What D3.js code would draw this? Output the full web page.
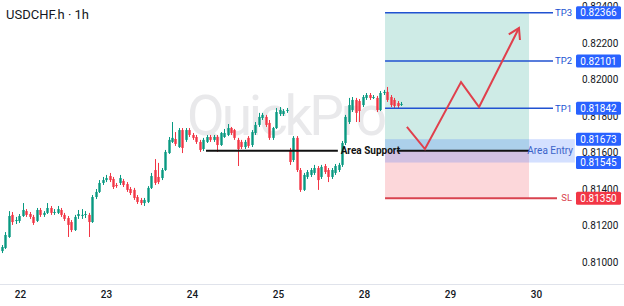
<!DOCTYPE html>
<html>
<head>
<meta charset="utf-8">
<script src="https://cdn.jsdelivr.net/npm/d3@7"></script>
<style>
  body { margin: 0; background: #fff; }
  text { font-family: Roboto, "Noto Sans", sans-serif; }
</style>
</head>
<body>
<div id="chart"></div>
<script>
var width = 624,
    height = 306;

// hourly candles, USDCHF.h
var open = [0.81060,0.81077,0.81137,0.81258,0.81225,0.81225,0.81252,0.81279,0.81263,0.81247,
  0.81225,0.81285,0.81258,0.81269,0.81296,0.81269,0.81269,0.81285,0.81258,0.81241,
  0.81219,0.81175,0.81252,0.81258,0.81263,0.81258,0.81219,0.81356,0.81384,0.81433,
  0.81449,0.81471,0.81455,0.81422,0.81433,0.81444,0.81427,0.81400,0.81395,0.81356,
  0.81340,0.81323,0.81329,0.81406,0.81504,0.81466,0.81460,0.81504,0.81597,0.81658,
  0.81674,0.81630,0.81723,0.81669,0.81723,0.81696,0.81685,0.81658,0.81619,0.81658,
  0.81685,0.81669,0.81685,0.81641,0.81685,0.81696,0.81734,0.81723,0.81669,0.81658,
  0.81630,0.81680,0.81641,0.81707,0.81751,0.81789,0.81795,0.81762,0.81680,0.81734,
  0.81811,0.81811,0.81833,0.81614,0.81559,0.81680,0.81504,0.81395,0.81466,0.81477,
  0.81488,0.81515,0.81466,0.81526,0.81504,0.81466,0.81488,0.81504,0.81532,0.81652,
  0.81767,0.81833,0.81888,0.81882,0.81860,0.81899,0.81915,0.81904,0.81899,0.81833,
  0.81926,0.81932,0.81904,0.81888,0.81871,0.81866];
var high = [0.81093,0.81164,0.81279,0.81274,0.81247,0.81263,0.81323,0.81290,0.81274,0.81258,
  0.81296,0.81296,0.81279,0.81323,0.81307,0.81290,0.81307,0.81296,0.81269,0.81252,
  0.81230,0.81258,0.81285,0.81290,0.81279,0.81269,0.81367,0.81400,0.81449,0.81466,
  0.81477,0.81488,0.81466,0.81433,0.81477,0.81455,0.81438,0.81411,0.81406,0.81367,
  0.81351,0.81351,0.81416,0.81488,0.81564,0.81543,0.81515,0.81614,0.81685,0.81767,
  0.81712,0.81734,0.81734,0.81734,0.81734,0.81707,0.81696,0.81669,0.81680,0.81696,
  0.81696,0.81696,0.81696,0.81712,0.81729,0.81756,0.81740,0.81729,0.81680,0.81669,
  0.81669,0.81690,0.81723,0.81767,0.81817,0.81817,0.81806,0.81778,0.81740,0.81844,
  0.81849,0.81838,0.81844,0.81625,0.81690,0.81690,0.81515,0.81488,0.81504,0.81515,
  0.81532,0.81526,0.81532,0.81537,0.81515,0.81515,0.81537,0.81543,0.81663,0.81806,
  0.81899,0.81904,0.81899,0.81893,0.81915,0.81926,0.81926,0.81915,0.81910,0.81937,
  0.81943,0.81959,0.81915,0.81899,0.81882,0.81877];
var low = [0.81049,0.81071,0.81132,0.81203,0.81208,0.81214,0.81247,0.81247,0.81236,0.81203,
  0.81219,0.81247,0.81247,0.81263,0.81258,0.81258,0.81263,0.81247,0.81225,0.81137,
  0.81164,0.81170,0.81236,0.81236,0.81241,0.81137,0.81214,0.81345,0.81378,0.81422,
  0.81438,0.81438,0.81400,0.81406,0.81422,0.81411,0.81384,0.81367,0.81340,0.81318,
  0.81312,0.81307,0.81323,0.81400,0.81422,0.81427,0.81449,0.81499,0.81592,0.81652,
  0.81636,0.81625,0.81597,0.81658,0.81685,0.81669,0.81647,0.81603,0.81608,0.81652,
  0.81658,0.81658,0.81603,0.81636,0.81680,0.81690,0.81696,0.81669,0.81526,0.81619,
  0.81619,0.81625,0.81630,0.81696,0.81740,0.81778,0.81740,0.81669,0.81669,0.81729,
  0.81800,0.81800,0.81817,0.81532,0.81548,0.81493,0.81384,0.81389,0.81455,0.81466,
  0.81477,0.81395,0.81455,0.81482,0.81438,0.81455,0.81477,0.81493,0.81521,0.81641,
  0.81756,0.81822,0.81767,0.81767,0.81849,0.81888,0.81888,0.81893,0.81822,0.81827,
  0.81915,0.81877,0.81849,0.81844,0.81844,0.81855];
var close = [0.81082,0.81148,0.81252,0.81219,0.81230,0.81252,0.81285,0.81258,0.81247,0.81214,
  0.81285,0.81258,0.81269,0.81296,0.81269,0.81274,0.81290,0.81258,0.81236,0.81203,
  0.81175,0.81247,0.81263,0.81258,0.81263,0.81219,0.81356,0.81384,0.81433,0.81449,
  0.81460,0.81449,0.81411,0.81416,0.81460,0.81422,0.81395,0.81378,0.81351,0.81329,
  0.81323,0.81340,0.81406,0.81471,0.81433,0.81438,0.81504,0.81603,0.81669,0.81680,
  0.81647,0.81723,0.81625,0.81723,0.81696,0.81680,0.81658,0.81614,0.81669,0.81685,
  0.81669,0.81685,0.81641,0.81707,0.81707,0.81734,0.81707,0.81680,0.81619,0.81630,
  0.81658,0.81636,0.81712,0.81751,0.81795,0.81806,0.81751,0.81680,0.81734,0.81822,
  0.81833,0.81827,0.81833,0.81548,0.81680,0.81504,0.81395,0.81477,0.81493,0.81504,
  0.81515,0.81449,0.81521,0.81493,0.81466,0.81504,0.81526,0.81532,0.81652,0.81795,
  0.81860,0.81888,0.81817,0.81827,0.81904,0.81915,0.81899,0.81904,0.81833,0.81926,
  0.81932,0.81888,0.81860,0.81855,0.81855,0.81866];

var dayLabels = ["22", "23", "24", "25", "28", "29", "30"];
var priceTicks = [0.810, 0.812, 0.814, 0.816, 0.818, 0.820, 0.822, 0.824];

// trade levels
var targets = [
  {name: "TP3", price: 0.82366},
  {name: "TP2", price: 0.82101},
  {name: "TP1", price: 0.81842}
];
var stopLoss = 0.81350;
var entryPrice = 0.81610;
var entryTop = 0.81673, entryBottom = 0.81545;

// projected path (bar index, price)
var pathIdx = [116.7, 121.9, 132.3, 137.5, 149.0];
var pathPrice = [0.81740, 0.81619, 0.81986, 0.81849, 0.82282];

var svg = d3.select("#chart").append("svg")
    .attr("width", width)
    .attr("height", height);

var x = d3.scaleLinear()
    .domain([0, close.length - 1])
    .range([2, 401]);

var y = d3.scaleLinear()
    .domain([0.810, 0.822])
    .range([262, 43]);

var xDay = d3.scalePoint()
    .domain(dayLabels)
    .range([20, 536]);

// watermark
svg.append("text")
    .attr("x", 287)
    .attr("y", 135)
    .attr("text-anchor", "middle")
    .attr("textLength", 200)
    .style("font-size", "55px")
    .style("fill", "#e9e9eb")
    .text("QuickPro");

// position zones
var zoneL = x(110.4), zoneR = x(151.9);
svg.append("rect")
    .attr("x", zoneL).attr("width", zoneR - zoneL)
    .attr("y", y(targets[0].price)).attr("height", y(entryPrice) - y(targets[0].price))
    .style("fill", "rgba(8,153,129,0.2)");
svg.append("rect")
    .attr("x", zoneL).attr("width", zoneR - zoneL)
    .attr("y", y(entryPrice)).attr("height", y(stopLoss) - y(entryPrice))
    .style("fill", "rgba(242,54,69,0.2)");
svg.append("rect")
    .attr("x", zoneL).attr("width", x(165.1) - zoneL)
    .attr("y", y(entryTop)).attr("height", y(entryBottom) - y(entryTop))
    .style("fill", "rgba(41,98,255,0.2)");

// candles
var idx = d3.range(close.length);
var candles = svg.append("g").attr("class", "candles");
candles.selectAll("line")
    .data(idx)
  .enter().append("line")
    .attr("x1", function(i) { return Math.round(x(i)) + 0.5; })
    .attr("x2", function(i) { return Math.round(x(i)) + 0.5; })
    .attr("y1", function(i) { return y(high[i]); })
    .attr("y2", function(i) { return y(low[i]); })
    .style("stroke", function(i) { return close[i] >= open[i] ? "#089981" : "#f23645"; })
    .style("stroke-width", 1);
candles.selectAll("rect")
    .data(idx)
  .enter().append("rect")
    .attr("x", function(i) { return Math.round(x(i)) - 0.7; })
    .attr("width", 2.4)
    .attr("y", function(i) { return y(Math.max(open[i], close[i])); })
    .attr("height", function(i) { return Math.max(1, Math.abs(y(open[i]) - y(close[i]))); })
    .style("fill", function(i) { return close[i] >= open[i] ? "#089981" : "#f23645"; });

// area support
svg.append("line")
    .attr("x1", x(58.8)).attr("x2", x(96.8))
    .attr("y1", y(entryPrice)).attr("y2", y(entryPrice))
    .style("stroke", "#111").style("stroke-width", 2);
svg.append("line")
    .attr("x1", x(113.8)).attr("x2", zoneR)
    .attr("y1", y(entryPrice)).attr("y2", y(entryPrice))
    .style("stroke", "#111").style("stroke-width", 2);
svg.append("text")
    .attr("x", x(97.6))
    .attr("y", y(entryPrice))
    .attr("dy", "0.35em")
    .style("font-size", "10px")
    .style("font-weight", "bold")
    .style("fill", "#111")
    .text("Area Support");
svg.append("text")
    .attr("x", 573)
    .attr("y", y(entryPrice))
    .attr("dy", "0.35em")
    .attr("text-anchor", "end")
    .style("font-size", "10px")
    .style("fill", "#3b63c9")
    .text("Area Entry");

// target lines
targets.forEach(function(t) {
  svg.append("line")
      .attr("x1", zoneL).attr("x2", 553)
      .attr("y1", y(t.price)).attr("y2", y(t.price))
      .style("stroke", "#2152d1").style("stroke-width", 1.5);
  svg.append("text")
      .attr("x", 572)
      .attr("y", y(t.price))
      .attr("dy", "0.35em")
      .attr("text-anchor", "end")
      .style("font-size", "9.5px")
      .style("fill", "#2152d1")
      .text(t.name);
});

// stop loss line
svg.append("line")
    .attr("x1", zoneL).attr("x2", 557)
    .attr("y1", y(stopLoss)).attr("y2", y(stopLoss))
    .style("stroke", "#d9434f").style("stroke-width", 2);
svg.append("text")
    .attr("x", 572)
    .attr("y", y(stopLoss))
    .attr("dy", "0.35em")
    .attr("text-anchor", "end")
    .style("font-size", "9.5px")
    .style("fill", "#d9434f")
    .text("SL");

// projected zigzag
var pts = pathIdx.map(function(d, i) { return [x(d), y(pathPrice[i])]; });
svg.append("path")
    .attr("d", d3.line()(pts))
    .style("fill", "none")
    .style("stroke", "#e0404c")
    .style("stroke-width", 2)
    .style("stroke-linejoin", "miter");
var tip = pts[pts.length - 1], prev = pts[pts.length - 2];
var ang = Math.atan2(tip[1] - prev[1], tip[0] - prev[0]);
var head = [
  [tip[0] - 12 * Math.cos(ang - 0.55), tip[1] - 12 * Math.sin(ang - 0.55)],
  tip,
  [tip[0] - 12 * Math.cos(ang + 0.55), tip[1] - 12 * Math.sin(ang + 0.55)]
];
svg.append("path")
    .attr("d", d3.line()(head))
    .style("fill", "none")
    .style("stroke", "#e0404c")
    .style("stroke-width", 2);

// right price axis
svg.append("g")
    .attr("class", "y axis")
    .attr("transform", "translate(582,0)")
    .call(d3.axisRight(y).tickValues(priceTicks).tickFormat(d3.format(".5f")).tickSize(0).tickPadding(0))
    .call(function(g) { g.select(".domain").remove(); })
    .selectAll("text")
    .style("font-size", "10px")
    .style("font-family", "Roboto, sans-serif")
    .style("fill", "#131722");

// price tags
var tags = [
  {price: targets[0].price, color: "#2962ff"},
  {price: targets[1].price, color: "#2962ff"},
  {price: targets[2].price, color: "#2962ff"},
  {price: entryTop, color: "#2962ff"},
  {price: entryBottom, color: "#2962ff"},
  {price: stopLoss, color: "#f23645"}
];
var tag = svg.selectAll(".tag")
    .data(tags)
  .enter().append("g")
    .attr("class", "tag")
    .attr("transform", function(d) { return "translate(576," + y(d.price) + ")"; });
tag.append("rect")
    .attr("x", 0).attr("y", -6.5)
    .attr("width", 45).attr("height", 13)
    .attr("rx", 1.5)
    .style("fill", function(d) { return d.color; });
tag.append("text")
    .attr("x", 22.5)
    .attr("dy", "0.35em")
    .attr("text-anchor", "middle")
    .style("font-size", "10px")
    .style("fill", "#fff")
    .text(function(d) { return d3.format(".5f")(d.price); });

// time axis
svg.append("line")
    .attr("x1", 0).attr("x2", width)
    .attr("y1", 284.5).attr("y2", 284.5)
    .style("stroke", "#e0e3eb");
svg.append("g")
    .attr("class", "x axis")
    .attr("transform", "translate(0,288)")
    .call(d3.axisBottom(xDay).tickSize(0).tickPadding(3))
    .call(function(g) { g.select(".domain").remove(); })
    .selectAll("text")
    .style("font-size", "10px")
    .style("font-weight", "500")
    .style("font-family", "Roboto, sans-serif")
    .style("fill", "#131722");

// title
svg.append("text")
    .attr("x", 6)
    .attr("y", 19)
    .style("font-size", "13px")
    .style("fill", "#131722")
    .text("USDCHF.h \u00b7 1h");
</script>
</body>
</html>
